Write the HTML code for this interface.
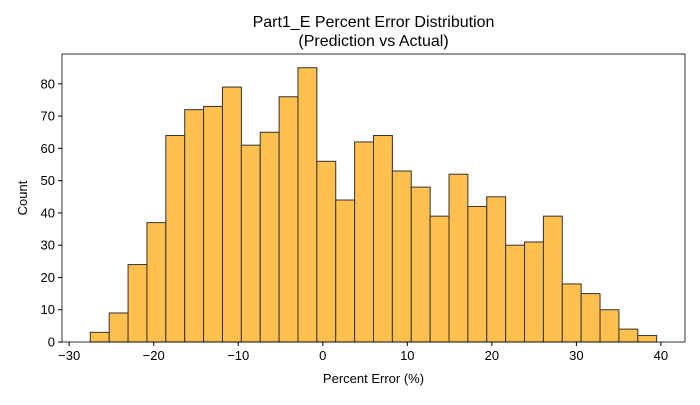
<!DOCTYPE html>
<html><head><meta charset="utf-8"><style>
body{margin:0;background:#fff;font-family:"Liberation Sans","DejaVu Sans",sans-serif}
svg text{font-family:"Liberation Sans","DejaVu Sans",sans-serif;fill:#000}
</style></head><body>
<svg id="chart" width="700" height="400" xmlns="http://www.w3.org/2000/svg">
<text x="373.5" y="27" text-anchor="middle" font-size="16">Part1_E Percent Error Distribution</text>
<text x="373.5" y="46" text-anchor="middle" font-size="16">(Prediction vs Actual)</text>
<g id="bars"></g>
<g id="axes"></g>
<text x="373.5" y="383" text-anchor="middle" font-size="13">Percent Error (%)</text>
<text transform="translate(27,198) rotate(-90)" text-anchor="middle" font-size="13">Count</text>
</svg>
<script>
const binStart = -27.5;
const binEnd = 39.5;
const counts = [3,9,24,37,64,72,73,79,61,65,76,85,56,44,62,64,53,48,39,52,42,45,30,31,39,18,15,10,4,2];
const xTicks = [-30,-20,-10,0,10,20,30,40];
const yTicks = [0,10,20,30,40,50,60,70,80];

const L=62,R=685,T=54,B=342;
const xMin=-30.85,xMax=42.85,yMax=89.25;
const xs=v=>L+(v-xMin)/(xMax-xMin)*(R-L);
const ys=v=>B-v/yMax*(B-T);
const NS="http://www.w3.org/2000/svg";
const bars=document.getElementById('bars');
const w=(binEnd-binStart)/counts.length;
counts.forEach((c,i)=>{
  const r=document.createElementNS(NS,'rect');
  const x0=xs(binStart+i*w),x1=xs(binStart+(i+1)*w);
  r.setAttribute('x',x0);r.setAttribute('y',ys(c));
  r.setAttribute('width',x1-x0);r.setAttribute('height',ys(0)-ys(c));
  r.setAttribute('fill','#ffc04d');r.setAttribute('stroke','#333');r.setAttribute('stroke-width','1');
  
  
  bars.appendChild(r);
});
const ax=document.getElementById('axes');
const frame=document.createElementNS(NS,'rect');
frame.setAttribute('x',L);frame.setAttribute('y',T);frame.setAttribute('width',R-L);frame.setAttribute('height',B-T);
frame.setAttribute('fill','none');frame.setAttribute('stroke','#000');frame.setAttribute('stroke-width','0.8');


ax.appendChild(frame);
xTicks.forEach(t=>{
  const x=xs(t);
  const l=document.createElementNS(NS,'line');
  l.setAttribute('x1',x);l.setAttribute('x2',x);l.setAttribute('y1',B);l.setAttribute('y2',B+4);l.setAttribute('stroke','#000');
  
  
  ax.appendChild(l);
  const tx=document.createElementNS(NS,'text');
  tx.setAttribute('x',x);tx.setAttribute('y',B+18);tx.setAttribute('text-anchor','middle');tx.setAttribute('font-size','13');
  tx.textContent=t<0?'\u2212'+(-t):t;
  
  
  ax.appendChild(tx);
});
yTicks.forEach(t=>{
  const y=ys(t);
  const l=document.createElementNS(NS,'line');
  l.setAttribute('x1',L-4);l.setAttribute('x2',L);l.setAttribute('y1',y);l.setAttribute('y2',y);l.setAttribute('stroke','#000');
  
  
  ax.appendChild(l);
  const tx=document.createElementNS(NS,'text');
  tx.setAttribute('x',L-7);tx.setAttribute('y',y+4.5);tx.setAttribute('text-anchor','end');tx.setAttribute('font-size','13');
  tx.textContent=t;
  
  
  ax.appendChild(tx);
});
</script>
</body></html>
